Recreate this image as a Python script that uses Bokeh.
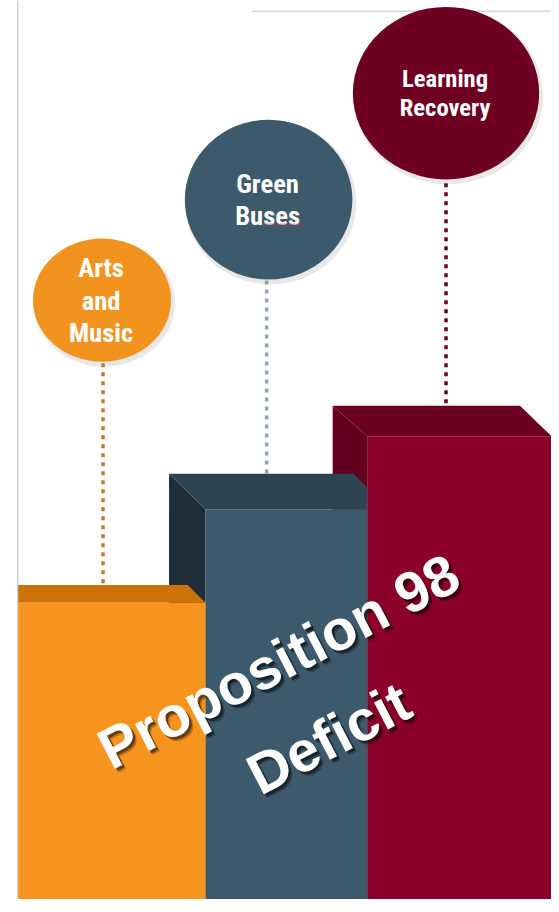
from bokeh.plotting import figure
from bokeh.models import Range1d, ColumnDataSource
from bokeh.core.properties import value
from bokeh.embed import file_html
from bokeh.resources import INLINE

# ---- data ----
categories = ["Arts and Music", "Green Buses", "Learning Recovery"]
label_lines = [["Arts", "and", "Music"], ["Green", "Buses"], ["Learning", "Recovery"]]
bar_values = [301, 396, 470]          # height of the front face of each block
title_lines = ["Proposition 98", "Deficit"]

# ---- styles ----
front_colors = ["#F7941E", "#3D5A6C", "#8A0029"]
top_colors = ["#CB7208", "#2F4453", "#6B0021"]
side_colors = ["#CB7208", "#1F2D38", "#630020"]
circle_colors = ["#F2921F", "#3D5A6D", "#6E0021"]
dot_colors = ["#C27A32", "#8CA6B8", "#6B0020"]

# ---- layout (reference pixels, y measured upwards from the bottom) ----
W, H = 551, 899
S = W / 559.0
bar_left = [18, 208, 372]
bar_right = [208, 372, 640]
back_left = [18, 171, 337]
back_right = [190, 358, 527]
depth = [18, 36, 31]
circle_x = [103, 272, 452]
circle_y = [608, 710, 818]
circle_w = [140, 170, 189]
circle_h = [125, 162, 175]
dot_x = [104, 270, 452]
label_size = [27, 27, 25]
label_gap = [33, 32, 30]

p = figure(width=W, height=H, x_range=Range1d(0, 559), y_range=Range1d(0, 912),
           output_backend="svg", toolbar_location=None, min_border=0,
           x_axis_location=None, y_axis_location=None)
p.grid.visible = False
p.outline_line_color = None
p.background_fill_color = "white"
p.border_fill_color = "white"

# frame lines
p.segment(x0=[17.5], y0=[0], x1=[17.5], y1=[912], line_color="#CFCFCF", line_width=1.5)
p.segment(x0=[255], y0=[901], x1=[560], y1=[901], line_color="#D6D6D6", line_width=1.5)

# dotted connectors (behind circles)
for i in range(3):
    p.segment(x0=[dot_x[i]], y0=[circle_y[i]], x1=[dot_x[i]], y1=[bar_values[i] + depth[i]],
              line_color=dot_colors[i], line_width=3.5, line_dash="4 5")

# blocks: draw back (red) to front (orange)
for i in [2, 1, 0]:
    v = bar_values[i]
    top_y = v + depth[i]
    if back_left[i] < bar_left[i]:
        p.patch(x=[back_left[i], bar_left[i], bar_left[i], back_left[i]],
                y=[top_y, v, 0, 0], fill_color=side_colors[i], line_color=None)
    if i == 2:
        xs = [back_left[i], back_right[i], 600, 600, bar_left[i]]
        ys = [top_y, top_y, top_y - (600 - back_right[i]) * depth[i] / 32.0, v, v]
    elif i == 1:
        xs = [back_left[i], back_right[i], bar_right[i], bar_right[i], bar_left[i]]
        ys = [top_y, top_y, top_y - 14, v, v]
    else:
        xs = [back_left[i], back_right[i], bar_right[i], bar_left[i]]
        ys = [top_y, top_y, v, v]
    p.patch(x=xs, y=ys, fill_color=top_colors[i], line_color=None)
    p.quad(left=[bar_left[i]], right=[bar_right[i]], bottom=[0], top=[v],
           fill_color=front_colors[i], line_color=None)

# circles with soft shadow
for i in range(3):
    p.ellipse(x=[circle_x[i] + 2], y=[circle_y[i] - 3], width=[circle_w[i] + 4], height=[circle_h[i] + 4],
              fill_color="#808080", fill_alpha=0.18, line_color=None)
    p.ellipse(x=[circle_x[i]], y=[circle_y[i]], width=[circle_w[i]], height=[circle_h[i]],
              fill_color=circle_colors[i], line_color=None)

# circle labels
label_font = value("'Liberation Sans Narrow', 'Roboto Condensed', 'Roboto', sans-serif")
for i in range(3):
    n = len(label_lines[i])
    ys = [circle_y[i] + (n - 1) / 2 * label_gap[i] - k * label_gap[i] for k in range(n)]
    src = ColumnDataSource(dict(x=[circle_x[i] - 1] * n, y=ys, t=label_lines[i]))
    p.text(x="x", y="y", text="t", source=src, text_color="white", text_font=label_font,
           text_font_style="bold", text_font_size=f"{label_size[i] * S:.1f}px", text_align="center",
           text_baseline="middle")

# spell-check underline under "Buses"
p.segment(x0=[267], y0=[685], x1=[307], y1=[685], line_color="#D03040", line_width=1.5, line_dash="1 1")

# rotated title with shadow
title_x = [282, 333]
title_y = [242, 164]
big_font = value("Liberation Sans")
big_size = f"{58 * S:.1f}px"
for off, col, alpha in [(4, "#000000", 0.25), (2.5, "#000000", 0.45)]:
    p.text(x=[x + off for x in title_x], y=[y - off for y in title_y], text=title_lines,
           angle=27.5, angle_units="deg", text_color=col, text_alpha=alpha, text_font=big_font,
           text_font_style="bold", text_font_size=big_size, text_align="center", text_baseline="middle")
p.text(x=title_x, y=title_y, text=title_lines, angle=27.5, angle_units="deg",
       text_color="white", text_font=big_font, text_font_style="bold", text_font_size=big_size,
       text_align="center", text_baseline="middle")

open("out.html", "w").write(file_html(p, INLINE))
